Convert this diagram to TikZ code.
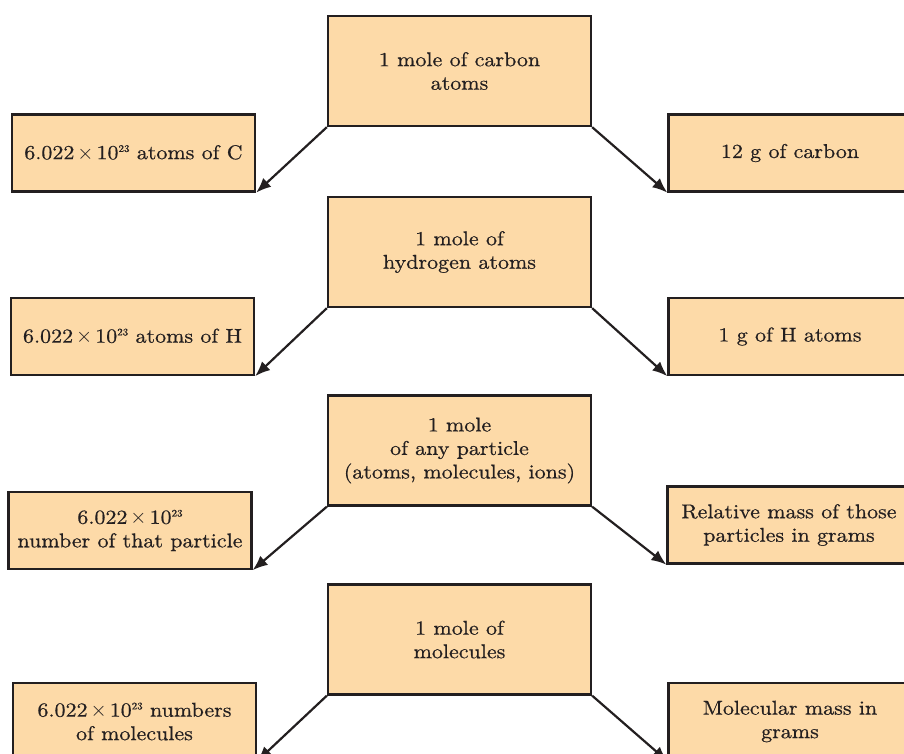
\documentclass[tikz,border=0pt]{standalone}
\usepackage{fontspec}
\setmainfont{lmroman10-regular.otf}[FakeStretch=1.1,FakeBold=0.6]
\usetikzlibrary{arrows.meta}
\definecolor{boxfill}{RGB}{253,218,168}
\definecolor{ink}{RGB}{35,31,32}
\newcommand{\avo}{6.022\kern3pt$\times$\kern3pt10\raisebox{0.85ex}{\fontsize{10}{10}\selectfont 23}}
\begin{document}
\begin{tikzpicture}[x=1pt,y=-1pt,
  basebox/.style={draw=ink, fill=boxfill, line width=2.3pt, align=center, inner sep=0pt,
    text=ink, font=\fontsize{20}{23.5}\selectfont},
  cbox/.style={basebox, minimum width=263pt, minimum height=110pt},
  sbox/.style={basebox, minimum width=243pt, minimum height=77pt},
  arr/.style={draw=ink, line width=2.2pt, -{Latex[length=15pt,width=12pt]}}]
\path[use as bounding box] (0,0) rectangle (904,754);
\clip (0,0) rectangle (904,754);
% row 1
\node[cbox] (c1) at (459.5,71) {1 mole of carbon\\atoms};
\node[sbox] (l1) at (133.5,153) {\avo\ atoms of C};
\node[sbox] (r1) at (790,153) {12 g of carbon};
% row 2
\node[cbox] (c2) at (459.5,252) {1 mole of\\hydrogen atoms};
\node[sbox] (l2) at (132.5,336.5) {\avo\ atoms of H};
\node[sbox] (r2) at (790,336.5) {1 g of H atoms};
% row 3
\node[cbox] (c3) at (459.5,450.5) {1 mole\\of any particle\\(atoms, molecules, ions)};
\node[sbox] (l3) at (130,530.5) {\avo\\number of that particle};
\node[sbox] (r3) at (789,525) {Relative mass of those\\particles in grams};
% row 4
\node[cbox] (c4) at (459.5,639.5) {1 mole of\\molecules};
\node[sbox] (l4) at (134.5,721.5) {\avo\ numbers\\of molecules};
\node[sbox] (r4) at (790,721.5) {Molecular mass in\\grams};
% arrows
\foreach \i in {1,2,3,4}{
  \draw[arr] (c\i.south west) -- (l\i.south east);
  \draw[arr] (c\i.south east) -- (r\i.south west);
}
\end{tikzpicture}
\end{document}
